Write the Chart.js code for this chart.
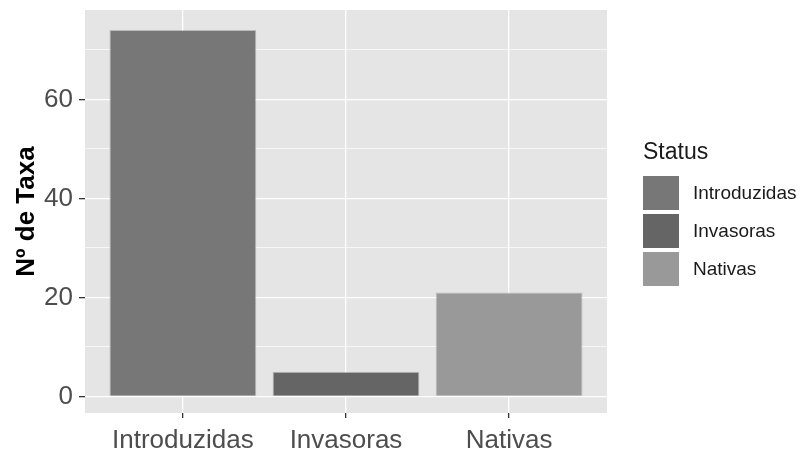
<!DOCTYPE html>
<html>
<head>
<meta charset="utf-8">
<script src="https://cdn.jsdelivr.net/npm/chart.js@4"></script>
<style>
  html, body { margin: 0; padding: 0; background: #ffffff; }
  #wrap { width: 804px; height: 453px; }
</style>
</head>
<body>
<div id="wrap"><canvas id="chart" width="804" height="453"></canvas></div>
<script>
// Nº de Taxa por status
const categories = ['Introduzidas', 'Invasoras', 'Nativas'];
const taxa = [74, 5, 21];
const barColors = ['#777777', '#656565', '#999999'];
const yTicks = [0, 10, 20, 30, 40, 50, 60, 70];
const legendTitle = 'Status';

const FONT = '"Liberation Sans", Arial, sans-serif';

// panel background, like ggplot's grey theme
const panelBg = {
    id: 'panelBg',
    beforeDraw(chart) {
        const { ctx, chartArea: a } = chart;
        ctx.save();
        ctx.fillStyle = '#e5e5e5';
        ctx.fillRect(a.left, a.top, a.right - a.left, a.bottom - a.top);
        ctx.restore();
    }
};

// legend drawn by hand to get the ggplot look
const sideLegend = {
    id: 'sideLegend',
    afterDraw(chart) {
        const ctx = chart.ctx;
        const x = 643, top = 176, key = 36, step = 38;
        ctx.save();
        ctx.fillStyle = '#1a1a1a';
        ctx.font = '23px ' + FONT;
        ctx.textBaseline = 'middle';
        ctx.fillText(legendTitle, x, 153);
        ctx.font = '19px ' + FONT;
        categories.forEach((c, i) => {
            const y = top + i * step;
            ctx.fillStyle = barColors[i];
            ctx.fillRect(x, y, key, key - 2);
            ctx.fillStyle = '#1a1a1a';
            ctx.fillText(c, x + key + 14, y + key / 2);
        });
        ctx.restore();
    }
};

const data = categories.map((c, i) => ({ x: i + 1, y: taxa[i] }));

new Chart(document.getElementById('chart'), {
    type: 'bar',
    data: {
        datasets: [{
            data: data,
            backgroundColor: barColors,
            borderColor: 'rgba(60,60,60,0.25)',
            borderWidth: 1,
            categoryPercentage: 1,
            barPercentage: 0.9
        }]
    },
    options: {
        responsive: false,
        animation: false,
        layout: { padding: { top: 10, right: 197, left: 0, bottom: 0 } },
        plugins: { legend: { display: false }, tooltip: { enabled: false } },
        scales: {
            x: {
                type: 'linear',
                offset: false,
                min: 0.4,
                max: 3.6,
                afterBuildTicks(scale) {
                    scale.ticks = categories.map((c, i) => ({ value: i + 1 }));
                },
                afterFit(scale) {
                    scale.height = 40;
                    scale.paddingLeft = 0;
                    scale.paddingRight = 0;
                },
                border: { display: false },
                grid: { offset: false, color: '#ffffff', lineWidth: 1.3, tickColor: '#333333', tickLength: 5 },
                ticks: {
                    callback: (v) => categories[v - 1] || '',
                    font: { family: FONT, size: 26 },
                    color: '#4d4d4d',
                    padding: 7,
                    maxRotation: 0,
                    autoSkip: false
                }
            },
            y: {
                min: -3.35,
                max: 78.05,
                afterBuildTicks(scale) {
                    scale.ticks = yTicks.map(v => ({ value: v }));
                },
                afterFit(scale) {
                    scale.width = 85;
                    scale.paddingTop = 0;
                    scale.paddingBottom = 0;
                },
                border: { display: false },
                grid: {
                    color: '#ffffff',
                    lineWidth: (ctx) => (ctx.tick && ctx.tick.value % 20 === 0 ? 1.3 : 0.7),
                    tickColor: (ctx) => (ctx.tick && ctx.tick.value % 20 === 0 ? '#333333' : 'rgba(0,0,0,0)'),
                    tickLength: 6
                },
                ticks: {
                    callback: (v) => (v % 20 === 0 ? String(v) : ''),
                    font: { family: FONT, size: 26 },
                    color: '#4d4d4d',
                    padding: 6
                },
                title: {
                    display: true,
                    text: 'Nº de Taxa',
                    font: { family: FONT, size: 26, weight: 'bold' },
                    color: '#000000',
                    padding: { top: 11, bottom: 0 }
                }
            }
        }
    },
    plugins: [panelBg, sideLegend]
});
</script>
</body>
</html>
